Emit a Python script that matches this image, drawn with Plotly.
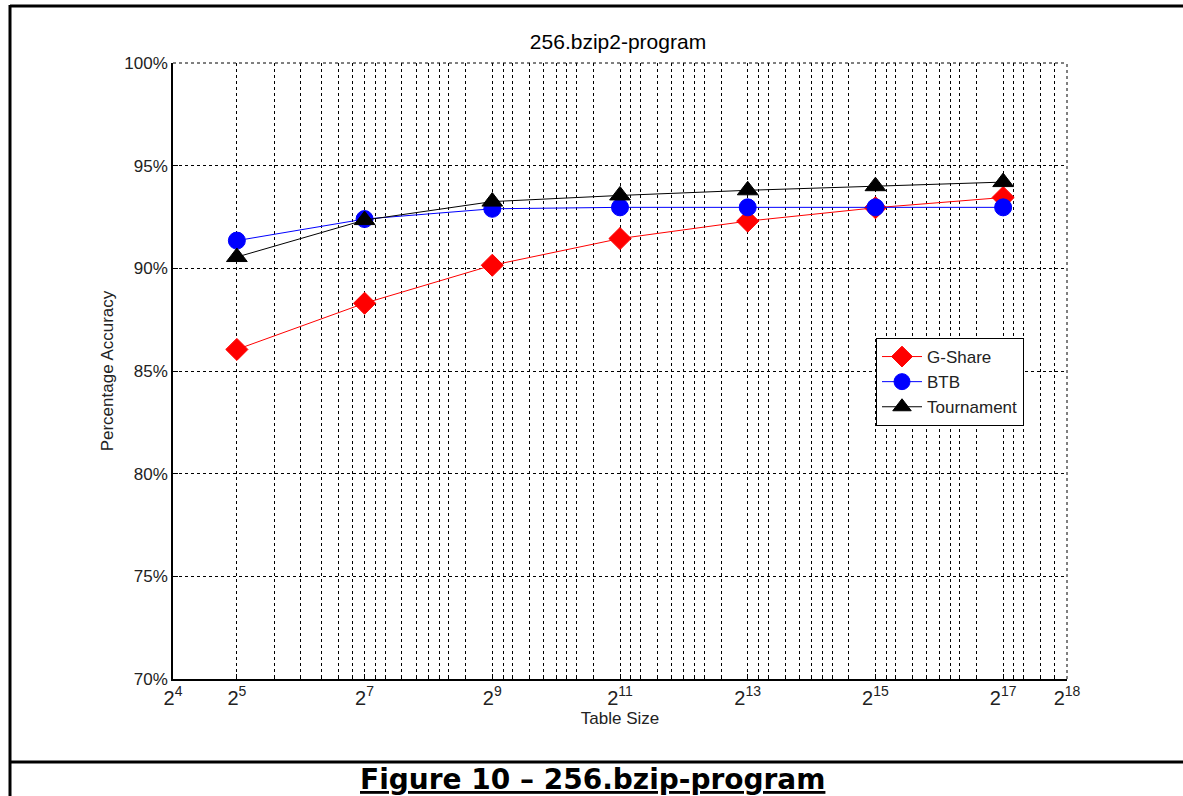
import plotly.graph_objects as go

# Table sizes (entries) and prediction accuracy (%) for each predictor
table_sizes = [2**5, 2**7, 2**9, 2**11, 2**13, 2**15, 2**17]
gshare_acc = [86.05, 88.3, 90.15, 91.45, 92.3, 92.95, 93.45]
btb_acc = [91.35, 92.4, 92.9, 92.97, 92.97, 92.97, 92.97]
tournament_acc = [90.55, 92.35, 93.25, 93.55, 93.8, 94.0, 94.2]

series_names = ["G-Share", "BTB", "Tournament"]
series_colors = ["#ff0000", "#0000ff", "#000000"]
series_symbols = ["diamond", "circle", "triangle-up"]
series_sizes = [17, 17, 18]

# Axis ticks
x_tick_exps = [4, 5, 7, 9, 11, 13, 15, 17, 18]
y_tick_vals = [70, 75, 80, 85, 90, 95, 100]

# Minor grid multipliers within each two-octave span
minor_mult_low = [1.5, 2, 2.5, 3, 3.5]
minor_mult = [1.125, 1.25, 1.5, 1.75, 2, 2.25, 2.5, 3]

FONT = "Liberation Sans, Arial, sans-serif"

minor_vals = [32 * m for m in minor_mult_low]
for e in [7, 9, 11, 13, 15, 17]:
    for m in minor_mult:
        v = 2**e * m
        if v < 2**18:
            minor_vals.append(v)

fig = go.Figure()
for name, ys, col, sym, sz in zip(series_names,
                                  [gshare_acc, btb_acc, tournament_acc],
                                  series_colors, series_symbols, series_sizes):
    fig.add_trace(go.Scatter(
        x=table_sizes, y=ys, name=name, mode="lines+markers",
        line=dict(color=col, width=1),
        marker=dict(symbol=sym, size=sz, color=col, line=dict(color=col, width=1)),
    ))

grid_dash = "3px,3px"
fig.update_xaxes(
    type="log",
    range=[4 * 0.30103, 18 * 0.30103],
    tickmode="array",
    tickvals=[2**e for e in x_tick_exps],
    ticktext=[f"2<sup>{e}</sup>" for e in x_tick_exps],
    ticks="inside", ticklen=5, tickcolor="black",
    showgrid=True, gridcolor="black", gridwidth=1, griddash=grid_dash,
    showline=True, linecolor="black", linewidth=1.5, mirror=False,
    minor=dict(tickmode="array", tickvals=minor_vals, ticks="inside", ticklen=4,
               tickcolor="black", showgrid=True, gridcolor="black",
               gridwidth=1, griddash=grid_dash),
    tickfont=dict(family=FONT, size=20, color="#222"),
    title=dict(text="Table Size", font=dict(family=FONT, size=17, color="#222"),
               standoff=2),
    zeroline=False,
)
fig.update_yaxes(
    range=[70, 100],
    tickmode="array",
    tickvals=y_tick_vals,
    ticktext=[f"{v}%" for v in y_tick_vals],
    ticks="inside", ticklen=5, tickcolor="black",
    showgrid=True, gridcolor="black", gridwidth=1, griddash=grid_dash,
    showline=True, linecolor="black", linewidth=1.5, mirror=False,
    tickfont=dict(family=FONT, size=17, color="#222"),
    title=dict(text="Percentage Accuracy", font=dict(family=FONT, size=17, color="#222"),
               standoff=6),
    zeroline=False,
)

# Helpers mapping page pixels to paper coordinates of the plot area
px_x = lambda p: (p - 173) / 894
px_y = lambda p: (679 - p) / 616

# Dotted grid along the top and right edges of the axes box
edge = dict(color="black", width=1, dash=grid_dash)
fig.add_shape(type="line", xref="paper", yref="paper", x0=0, x1=1, y0=1, y1=1, line=edge)
fig.add_shape(type="line", xref="paper", yref="paper", x0=1, x1=1, y0=0, y1=1, line=edge)

# Page frame around the figure and the caption underneath
frame = dict(color="black", width=3)
fig.add_shape(type="line", xref="paper", yref="paper",
              x0=px_x(10), x1=px_x(1200), y0=px_y(6), y1=px_y(6), line=frame)
fig.add_shape(type="line", xref="paper", yref="paper",
              x0=px_x(10), x1=px_x(10), y0=px_y(5), y1=px_y(800), line=frame)
fig.add_shape(type="line", xref="paper", yref="paper",
              x0=px_x(10), x1=px_x(1200), y0=px_y(762), y1=px_y(762), line=frame)

fig.add_annotation(text="<b><u>Figure 10 \u2013 256.bzip-program</u></b>",
                   xref="paper", yref="paper", x=px_x(592), y=px_y(780),
                   showarrow=False, xanchor="center", yanchor="middle",
                   font=dict(family="DejaVu Sans, Verdana, sans-serif", size=28,
                             color="black"))

fig.update_layout(
    width=1183, height=796,
    margin=dict(l=173, r=116, t=63, b=117),
    paper_bgcolor="white", plot_bgcolor="white",
    title=dict(text="256.bzip2-program", x=618 / 1183,
               xanchor="center", y=1 - 42 / 796, yanchor="middle",
               font=dict(family=FONT, size=21, color="black")),
    legend=dict(x=px_x(876), y=px_y(338), xanchor="left", yanchor="top",
                bgcolor="white", bordercolor="black", borderwidth=1,
                font=dict(family=FONT, size=17, color="#222"),
                tracegroupgap=0, itemwidth=40),
    showlegend=True,
)

fig.write_html("out.html")
